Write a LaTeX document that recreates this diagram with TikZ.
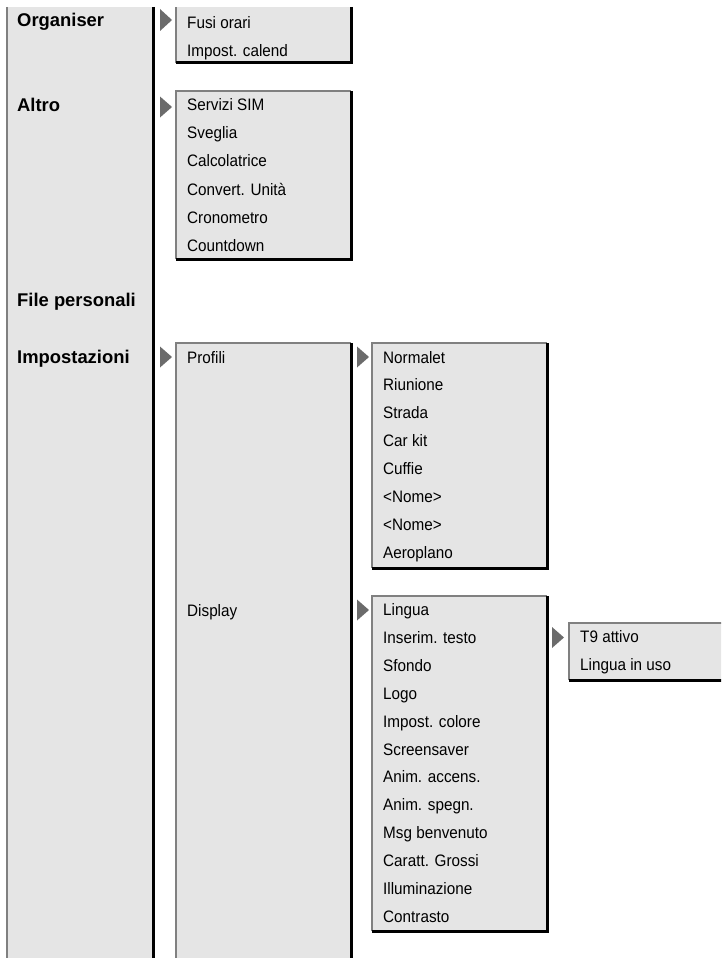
\documentclass[tikz,border=0pt]{standalone}
\usepackage{fontspec}
\setmainfont{Liberation Sans}
\newfontfamily\menufont{Liberation Sans}[FakeStretch=0.92]
\usetikzlibrary{positioning}

\begin{document}
\begin{tikzpicture}[x=1pt, y=-1pt,
    panel/.style={fill=black!10},
    lite/.style={draw=black!50, line width=2pt},
    dark/.style={draw=black, line width=3pt},
    head/.style={anchor=base west, inner sep=0pt, font=\fontsize{18.4}{21}\selectfont\bfseries},
    item/.style={anchor=base west, inner sep=0pt, font=\menufont\fontsize{16.6}{19}\selectfont},
    tip/.style={fill=black!58},
]
\clip (0,0) rectangle (721,958);
% main column
\fill[panel] (7,7) rectangle (153,965);
\draw[lite] (7,7) -- (7,965);
\draw[dark] (153,7) -- (153,965);
% second column boxes
\fill[panel] (176,7) rectangle (351,63);
\draw[lite] (176,63) -- (176,7);
\draw[dark] (351,7) |- (176,63);
\fill[panel] (176,91) rectangle (351,259);
\draw[lite] (176,259) |- (351,91);
\draw[dark] (351,91) |- (176,259);
\fill[panel] (176,343) rectangle (351,965);
\draw[lite] (176,965) |- (351,343);
\draw[dark] (351,343) -- (351,965);
% third column boxes
\fill[panel] (372,343) rectangle (547,568);
\draw[lite] (372,568) |- (547,343);
\draw[dark] (547,343) |- (372,568);
\fill[panel] (372,596) rectangle (547,931);
\draw[lite] (372,931) |- (547,596);
\draw[dark] (547,596) |- (372,931);
% fourth column box
\fill[panel] (569,623) rectangle (730,680);
\draw[lite] (569,680) |- (730,623);
\draw[dark] (730,680) -- (569,680);
% markers
\fill[tip] (160,9) -- (172,20) -- (160,31) -- cycle;
\fill[tip] (160,96.5) -- (172,107) -- (160,117.5) -- cycle;
\fill[tip] (160,346.5) -- (172,357) -- (160,367.5) -- cycle;
\fill[tip] (357,346.5) -- (369,357) -- (357,367.5) -- cycle;
\fill[tip] (357,599.5) -- (369,610) -- (357,620.5) -- cycle;
\fill[tip] (552,627) -- (564,637.5) -- (552,648) -- cycle;
% headings
\node[head] (org) at (17,27) {Organiser};
\node[head] (altro) at (17,111) {Altro};
\node[head] (filep) at (17,306) {File personali};
\node[head] (impost) at (17,363) {Impostazioni};
% Organiser
\node[item] (fusi) at (187,28.5) {Fusi orari};
\node[item] (calend) at (187,56.5) {Impost. calend};
% Altro
\node[item] (sim) at (187,110.5) {Servizi SIM};
\node[item] (sveglia) at (187,138.7) {Sveglia};
\node[item] (calc) at (187,166.9) {Calcolatrice};
\node[item] (conv) at (187,195.1) {Convert. Unità};
\node[item] (crono) at (187,223.3) {Cronometro};
\node[item] (count) at (187,251.5) {Countdown};
% Impostazioni
\node[item] (profili) at (187,363) {Profili};
\node[item] (display) at (187,616) {Display};
% Profili
\node[item] (normalet) at (383,363) {Normalet};
\node[item] (riunione) at (383,390.9) {Riunione};
\node[item] (strada) at (383,418.9) {Strada};
\node[item] (carkit) at (383,446.8) {Car kit};
\node[item] (cuffie) at (383,474.7) {Cuffie};
\node[item] (nomea) at (383,502.7) {<Nome>};
\node[item] (nomeb) at (383,530.6) {<Nome>};
\node[item] (aereo) at (383,558.5) {Aeroplano};
% Display
\node[item] (lingua) at (383,615.5) {Lingua};
\node[item] (testo) at (383,643.4) {Inserim. testo};
\node[item] (sfondo) at (383,671.3) {Sfondo};
\node[item] (logo) at (383,699.2) {Logo};
\node[item] (colore) at (383,727.1) {Impost. colore};
\node[item] (saver) at (383,755.0) {Screensaver};
\node[item] (accens) at (383,782.9) {Anim. accens.};
\node[item] (spegn) at (383,810.8) {Anim. spegn.};
\node[item] (msg) at (383,838.7) {Msg benvenuto};
\node[item] (grossi) at (383,866.6) {Caratt. Grossi};
\node[item] (illum) at (383,894.5) {Illuminazione};
\node[item] (contr) at (383,922.4) {Contrasto};
% Inserim. testo
\node[item] (tnove) at (580,642.5) {T9 attivo};
\node[item] (linguso) at (580,670.3) {Lingua in uso};
\end{tikzpicture}
\end{document}
